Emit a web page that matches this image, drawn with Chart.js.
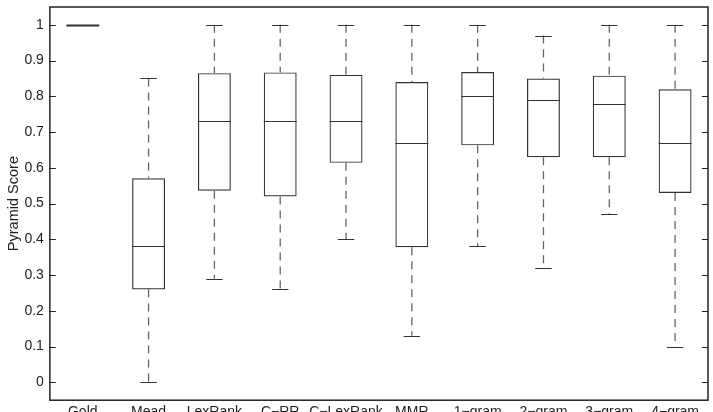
<!DOCTYPE html>
<html>
<head>
<meta charset="utf-8">
<script src="https://cdn.jsdelivr.net/npm/chart.js@4.4.1/dist/chart.umd.min.js"></script>
<style>
    html, body { margin: 0; padding: 0; background: #fff; overflow: hidden; }
    #wrap { width: 713px; height: 425px; }
</style>
</head>
<body>
<div id="wrap"><canvas id="boxChart"></canvas></div>
<script>
// box plot data
const labels = ["Gold", "Mead", "LexRank", "C\u2212RR", "C\u2212LexRank", "MMR", "1\u2212gram", "2\u2212gram", "3\u2212gram", "4\u2212gram"];
const whiskerLow = [1, 0, 0.29, 0.26, 0.40, 0.13, 0.38, 0.32, 0.47, 0.10];
const boxLow = [1, 0.26, 0.536, 0.52, 0.614, 0.378, 0.663, 0.63, 0.63, 0.53];
const medians = [1, 0.38, 0.73, 0.73, 0.73, 0.67, 0.80, 0.79, 0.78, 0.67];
const boxHigh = [1, 0.571, 0.865, 0.867, 0.86, 0.84, 0.868, 0.85, 0.858, 0.82];
const whiskerHigh = [1, 0.85, 1, 1, 1, 1, 1, 0.97, 1, 1];
const tickValues = [0, 0.1, 0.2, 0.3, 0.4, 0.5, 0.6, 0.7, 0.8, 0.9, 1];

const lineColor = "#333";

// medians, whiskers, frame and inward ticks
const boxExtras = {
    id: "boxExtras",
    afterDatasetsDraw(chart) {
        const ctx = chart.ctx;
        const y = chart.scales.y;
        const area = chart.chartArea;
        const meta = chart.getDatasetMeta(0);
        ctx.save();
        meta.data.forEach((bar, i) => {
            const cx = bar.x;
            const half = bar.width / 2;
            const capHalf = half / 2;
            // whiskers (dashed)
            ctx.strokeStyle = "#666";
            ctx.lineWidth = 1.3;
            ctx.setLineDash([8, 6]);
            ctx.beginPath();
            if (whiskerHigh[i] > boxHigh[i]) {
                ctx.moveTo(cx, y.getPixelForValue(whiskerHigh[i]));
                ctx.lineTo(cx, y.getPixelForValue(boxHigh[i]));
            }
            if (whiskerLow[i] < boxLow[i]) {
                ctx.moveTo(cx, y.getPixelForValue(boxLow[i]));
                ctx.lineTo(cx, y.getPixelForValue(whiskerLow[i]));
            }
            ctx.stroke();
            ctx.setLineDash([]);
            // caps
            ctx.strokeStyle = lineColor;
            ctx.lineWidth = 1.2;
            ctx.beginPath();
            if (whiskerHigh[i] > boxHigh[i]) {
                const yy = Math.round(y.getPixelForValue(whiskerHigh[i])) + 0.5;
                ctx.moveTo(cx - capHalf, yy);
                ctx.lineTo(cx + capHalf, yy);
            }
            if (whiskerLow[i] < boxLow[i]) {
                const yy = Math.round(y.getPixelForValue(whiskerLow[i])) + 0.5;
                ctx.moveTo(cx - capHalf, yy);
                ctx.lineTo(cx + capHalf, yy);
            }
            ctx.stroke();
            // median
            const my = Math.round(y.getPixelForValue(medians[i])) + 0.5;
            ctx.lineWidth = boxHigh[i] === boxLow[i] ? 2 : 1.2;
            ctx.beginPath();
            ctx.moveTo(cx - half, my);
            ctx.lineTo(cx + half, my);
            ctx.stroke();
        });
        // frame
        ctx.strokeStyle = "#222";
        ctx.lineWidth = 1.5;
        ctx.strokeRect(area.left, area.top, area.right - area.left, area.bottom - area.top);
        // inward ticks on both sides
        ctx.lineWidth = 1;
        ctx.beginPath();
        tickValues.forEach((v) => {
            const yy = Math.round(y.getPixelForValue(v)) + 0.5;
            ctx.moveTo(area.left, yy);
            ctx.lineTo(area.left + 6, yy);
            ctx.moveTo(area.right, yy);
            ctx.lineTo(area.right - 6, yy);
        });
        ctx.stroke();
        ctx.restore();
    },
};

const ctx = document.getElementById("boxChart").getContext("2d");

new Chart(ctx, {
    type: "bar",
    data: {
        labels: labels,
        datasets: [
            {
                label: "Pyramid Score",
                data: boxLow.map((v, i) => [v, boxHigh[i]]),
                backgroundColor: "rgba(0,0,0,0)",
                borderColor: lineColor,
                borderWidth: 1.2,
                borderSkipped: false,
                barPercentage: 0.5,
                categoryPercentage: 1,
            },
        ],
    },
    options: {
        responsive: true,
        maintainAspectRatio: false,
        animation: false,
        layout: {
            padding: { top: 7, right: 5, left: 5, bottom: 0 },
        },
        plugins: {
            legend: { display: false },
            tooltip: { enabled: false },
        },
        scales: {
            x: {
                grid: { display: false, drawTicks: false },
                border: { display: false },
                ticks: {
                    color: "#222",
                    padding: 4,
                    maxRotation: 0,
                    autoSkip: false,
                    font: { family: "Liberation Sans", size: 14 },
                },
            },
            y: {
                min: -0.05,
                max: 1.05,
                afterBuildTicks: (scale) => {
                    scale.ticks = tickValues.map((v) => ({ value: v }));
                },
                afterFit: (scale) => {
                    scale.paddingTop = 0;
                    scale.paddingBottom = 0;
                },
                grid: { display: false, drawTicks: false },
                border: { display: false },
                ticks: {
                    color: "#222",
                    padding: 6,
                    font: { family: "Liberation Sans", size: 14 },
                    callback: (value) => String(Math.round(value * 10) / 10),
                },
                title: {
                    display: true,
                    text: "Pyramid Score",
                    color: "#222",
                    padding: { top: 0, bottom: -4 },
                    font: { family: "Liberation Sans", size: 14.5 },
                },
            },
        },
    },
    plugins: [boxExtras],
});
</script>
</body>
</html>
